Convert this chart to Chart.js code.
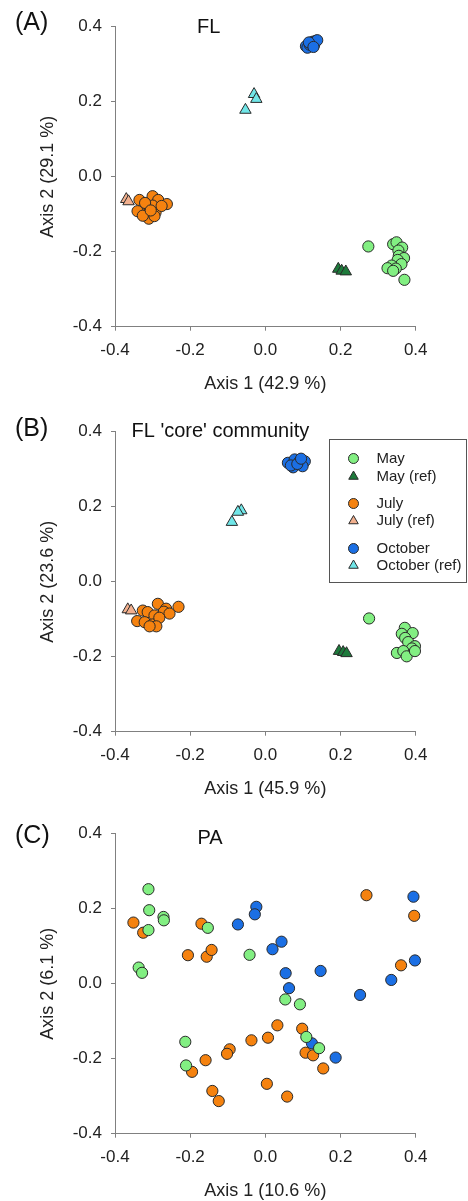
<!DOCTYPE html>
<html>
<head>
<meta charset="utf-8">
<script src="https://cdn.jsdelivr.net/npm/chart.js@4.4.0/dist/chart.umd.min.js"></script>
<style>
  html, body { margin: 0; padding: 0; background: #fff; overflow: hidden; width: 468px; height: 1201px; }
  .panel { position: absolute; left: 0; width: 468px; height: 400px; }
</style>
</head>
<body>
<div class="panel" style="top:0px"><canvas id="chartA" width="468" height="400"></canvas></div>
<div class="panel" style="top:405px"><canvas id="chartB" width="468" height="400"></canvas></div>
<div class="panel" style="top:806.6px"><canvas id="chartC" width="468" height="400"></canvas></div>
<script>
// axis range / ticks shared by all three panels
const axisMin = -0.4
const axisMax = 0.4
const tickStep = 0.2

const seriesNames = ['May', 'May (ref)', 'July', 'July (ref)', 'October', 'October (ref)']

// (A) FL
const mayA = [[0.274,-0.186],[0.340,-0.180],[0.349,-0.175],[0.364,-0.189],[0.354,-0.197],[0.355,-0.211],[0.369,-0.217],[0.352,-0.222],[0.362,-0.233],[0.336,-0.237],[0.325,-0.244],[0.347,-0.245],[0.340,-0.251],[0.370,-0.275]]
const mayRefA = [[0.194,-0.246],[0.203,-0.251],[0.214,-0.253]]
const julyA = [[-0.335,-0.062],[-0.300,-0.052],[-0.285,-0.062],[-0.262,-0.073],[-0.318,-0.086],[-0.340,-0.092],[-0.313,-0.100],[-0.310,-0.112],[-0.292,-0.095],[-0.300,-0.077],[-0.276,-0.078],[-0.326,-0.104],[-0.295,-0.105],[-0.320,-0.070],[-0.305,-0.090]]
const julyRefA = [[-0.370,-0.060],[-0.364,-0.066]]
const octA = [[0.108,0.348],[0.112,0.344],[0.118,0.352],[0.122,0.356],[0.126,0.360],[0.130,0.352],[0.134,0.362],[0.138,0.364],[0.116,0.358],[0.128,0.346]]
const octRefA = [[-0.030,0.220],[-0.024,0.207],[-0.053,0.178]]

// (B) FL 'core' community
const mayB = [[0.276,-0.098],[0.371,-0.123],[0.363,-0.139],[0.392,-0.137],[0.372,-0.150],[0.380,-0.161],[0.398,-0.172],[0.390,-0.178],[0.350,-0.190],[0.367,-0.185],[0.376,-0.199],[0.398,-0.185]]
const mayRefB = [[0.196,-0.185],[0.207,-0.188],[0.216,-0.191]]
const julyB = [[-0.286,-0.059],[-0.231,-0.067],[-0.264,-0.072],[-0.270,-0.080],[-0.255,-0.085],[-0.326,-0.077],[-0.313,-0.081],[-0.295,-0.090],[-0.341,-0.105],[-0.321,-0.108],[-0.300,-0.114],[-0.282,-0.096],[-0.290,-0.119],[-0.308,-0.119]]
const julyRefB = [[-0.366,-0.074],[-0.357,-0.077]]
const octB = [[0.060,0.317],[0.078,0.326],[0.091,0.321],[0.105,0.321],[0.074,0.305],[0.099,0.308],[0.068,0.310],[0.085,0.314],[0.095,0.328]]
const octRefB = [[-0.064,0.190],[-0.073,0.186],[-0.089,0.159]]

// (C) PA
const mayC = [[-0.311,0.252],[-0.309,0.196],[-0.271,0.178],[-0.270,0.169],[-0.311,0.143],[-0.153,0.149],[-0.042,0.077],[-0.337,0.043],[-0.328,0.029],[0.053,-0.042],[0.092,-0.055],[-0.213,-0.155],[-0.211,-0.218],[0.109,-0.142],[0.143,-0.172]]
const julyC = [[-0.351,0.163],[-0.325,0.136],[-0.170,0.160],[-0.206,0.076],[-0.156,0.072],[-0.143,0.090],[0.269,0.236],[0.396,0.181],[0.361,0.049],[-0.195,-0.235],[-0.159,-0.204],[-0.095,-0.175],[-0.102,-0.187],[-0.037,-0.151],[0.007,-0.144],[0.032,-0.111],[0.098,-0.120],[0.107,-0.184],[0.127,-0.191],[0.154,-0.226],[-0.141,-0.286],[-0.124,-0.313],[0.004,-0.267],[0.058,-0.301]]
const octC = [[-0.073,0.158],[-0.024,0.205],[-0.028,0.185],[0.019,0.092],[0.043,0.112],[0.054,0.028],[0.147,0.034],[0.394,0.232],[0.398,0.062],[0.335,0.010],[0.063,-0.012],[0.252,-0.030],[0.124,-0.159],[0.187,-0.197]]

const panelLabels = ['(A)', '(B)', '(C)']
const panelTitles = ['FL', "FL 'core' community", 'PA']
const xTitles = ['Axis 1 (42.9 %)', 'Axis 1 (45.9 %)', 'Axis 1 (10.6 %)']
const yTitles = ['Axis 2 (29.1 %)', 'Axis 2 (23.6 %)', 'Axis 2 (6.1 %)']

const FONT = 'Arial, "Liberation Sans", sans-serif'
const fills = ['#82ef82', '#1d7a3b', '#f5820f', '#f2b08e', '#1b6fe4', '#70e6e8']
const EDGE = '#2a2a2a'
const AXIS = '#808080'

const toXY = arr => arr.map(p => ({x: p[0], y: p[1]}))

function series(idx, pts) {
    const tri = idx % 2 === 1
    return {
        label: seriesNames[idx],
        data: toXY(pts),
        pointStyle: tri ? 'triangle' : 'circle',
        pointRadius: tri ? 6.6 : 5.6,
        backgroundColor: fills[idx],
        borderColor: EDGE,
        borderWidth: 1,
        clip: false
    }
}

// panel letter + title, drawn over the plot
const panelText = {
    id: 'panelText',
    afterDraw(chart, args, o) {
        const ctx = chart.ctx
        ctx.save()
        ctx.fillStyle = '#111'
        ctx.textBaseline = 'alphabetic'
        ctx.font = '25px ' + FONT
        ctx.fillText(o.label, 15, o.labelY)
        ctx.font = '20px ' + FONT
        ctx.fillText(o.title, o.titleX, o.titleY)
        ctx.restore()
    }
}

// boxed legend with grouped rows (only panel B)
const legendBox = {
    id: 'legendBox',
    afterDraw(chart, args, o) {
        if (!o.show) return
        const ctx = chart.ctx
        ctx.save()
        ctx.strokeStyle = '#555'
        ctx.lineWidth = 1
        ctx.strokeRect(o.left, o.top, o.width, o.height)
        ctx.font = '15px ' + FONT
        ctx.textBaseline = 'middle'
        chart.data.datasets.forEach((ds, i) => {
            const y = o.rows[i]
            ctx.fillStyle = ds.backgroundColor
            ctx.strokeStyle = ds.borderColor
            ctx.lineWidth = 1
            Chart.helpers.drawPoint(ctx, {
                pointStyle: ds.pointStyle,
                radius: ds.pointStyle === 'triangle' ? 5.5 : 5,
                rotation: 0,
                borderWidth: 1
            }, o.markerX, y)
            ctx.fillStyle = '#222'
            ctx.fillText(ds.label, o.textX, y)
        })
        ctx.restore()
    }
}

function fmt(v) {
    if (Math.abs(v) < 1e-9) return '0.0'
    return v.toFixed(1)
}

function makeChart(id, n, datasets, txt, legend) {
    const tickFont = {family: FONT, size: 17}
    const titleFont = {family: FONT, size: 18}
    return new Chart(document.getElementById(id), {
        type: 'scatter',
        data: {datasets: datasets},
        options: {
            responsive: false,
            animation: false,
            devicePixelRatio: 1,
            layout: {padding: {top: 26.7, right: 52.3, bottom: 0, left: 0}},
            plugins: {
                legend: {display: false},
                tooltip: {enabled: false},
                panelText: Object.assign({label: panelLabels[n], title: panelTitles[n]}, txt),
                legendBox: legend || {show: false}
            },
            scales: {
                x: {
                    type: 'linear', min: axisMin, max: axisMax,
                    ticks: {stepSize: tickStep, callback: fmt, font: tickFont, color: '#222', padding: 9, maxRotation: 0},
                    grid: {drawOnChartArea: false, drawTicks: true, tickLength: 4, color: AXIS},
                    border: {display: true, color: AXIS, width: 1},
                    title: {display: true, text: xTitles[n], font: titleFont, color: '#222', padding: {top: 0, bottom: 5.5}},
                    afterFit(s) { s.height = 73.3 }
                },
                y: {
                    type: 'linear', min: axisMin, max: axisMax,
                    ticks: {stepSize: tickStep, callback: fmt, font: tickFont, color: '#222', padding: 9},
                    grid: {drawOnChartArea: false, drawTicks: true, tickLength: 4, color: AXIS},
                    border: {display: true, color: AXIS, width: 1},
                    title: {display: true, text: yTitles[n], font: titleFont, color: '#222', padding: {top: 37, bottom: 0}},
                    afterFit(s) { s.width = 115 }
                }
            }
        },
        plugins: [panelText, legendBox]
    })
}

makeChart('chartA', 0, [
    series(0, mayA), series(1, mayRefA), series(2, julyA),
    series(3, julyRefA), series(4, octA), series(5, octRefA)
], {labelY: 30, titleX: 197, titleY: 32.5})

makeChart('chartB', 1, [
    series(0, mayB), series(1, mayRefB), series(2, julyB),
    series(3, julyRefB), series(4, octB), series(5, octRefB)
], {labelY: 31, titleX: 131.5, titleY: 32},
{show: true, left: 329.5, top: 34.5, width: 137, height: 143, markerX: 353.5, textX: 376.5,
 rows: [53.5, 71.5, 98.5, 116, 143.5, 160.5]})

makeChart('chartC', 2, [
    series(0, mayC), series(2, julyC), series(4, octC)
], {labelY: 36, titleX: 197.5, titleY: 36.5})
</script>
</body>
</html>
